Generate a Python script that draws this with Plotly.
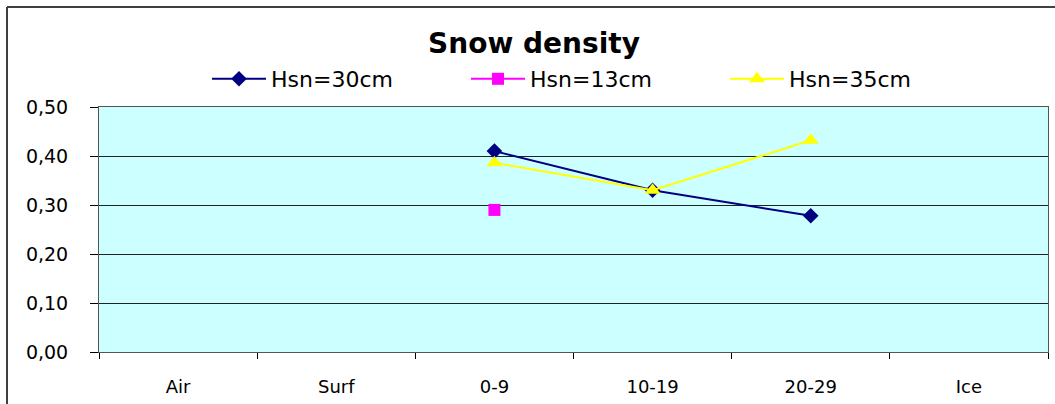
import plotly.graph_objects as go

categories = ["Air", "Surf", "0-9", "10-19", "20-29", "Ice"]
hsn30 = [None, None, 0.41, 0.33, 0.278, None]
hsn13 = [None, None, 0.29, None, None, None]
hsn35 = [None, None, 0.386, 0.33, 0.432, None]
y_ticks = [0.0, 0.1, 0.2, 0.3, 0.4, 0.5]

FONT = "DejaVu Sans"

fig = go.Figure()
fig.add_trace(go.Scatter(x=categories, y=hsn30, name="Hsn=30cm", mode="lines+markers",
                         line=dict(color="#000080", width=2),
                         marker=dict(symbol="diamond", size=12, color="#000080"),
                         connectgaps=False))
fig.add_trace(go.Scatter(x=categories, y=hsn13, name="Hsn=13cm", mode="lines+markers",
                         line=dict(color="#FF00FF", width=2),
                         marker=dict(symbol="square", size=12, color="#FF00FF")))
fig.add_trace(go.Scatter(x=categories, y=hsn35, name="Hsn=35cm", mode="lines+markers",
                         line=dict(color="#FFFF00", width=2),
                         marker=dict(symbol="triangle-up", size=14, color="#FFFF00")))

fig.update_layout(
    width=1055, height=404,
    margin=dict(l=99, r=7, t=107, b=52, autoexpand=False),
    paper_bgcolor="white",
    plot_bgcolor="#CCFFFF",
    separators=", ",
    font=dict(family=FONT, color="black", size=18),
    title=dict(text="<b>Snow density</b>", font=dict(family=FONT, size=28, color="black"),
               xref="container", x=534/1055, xanchor="center",
               yref="container", y=1-43/404, yanchor="middle"),
    showlegend=True,
    legend=dict(orientation="h", xref="paper", yref="paper",
                x=(207-99)/949, xanchor="left", y=(352-79)/245, yanchor="middle",
                font=dict(family=FONT, size=22, color="black"),
                entrywidth=190, entrywidthmode="pixels", itemwidth=54,
                bgcolor="rgba(0,0,0,0)", traceorder="normal"),
    xaxis=dict(type="category", categoryorder="array", categoryarray=categories,
               range=[-0.5, 5.5], tickson="boundaries", ticks="outside", ticklen=6,
               tickcolor="black", showgrid=False, showline=True, linecolor="#555555",
               linewidth=1, mirror=True, zeroline=False,
               tickfont=dict(family=FONT, size=18), ticklabelstandoff=18),
    yaxis=dict(range=[0, 0.5], tickvals=y_ticks, tickformat=".2f", ticks="outside",
               ticklen=8, tickcolor="black", showgrid=True, gridcolor="#222222",
               gridwidth=1, showline=True, linecolor="#555555", linewidth=1,
               mirror=True, zeroline=False,
               tickfont=dict(family=FONT, size=19), ticklabelstandoff=18),
    shapes=[
        dict(type="line", xref="paper", yref="paper",
             x0=(7-99)/949, x1=(1060-99)/949, y0=(352-7)/245, y1=(352-7)/245,
             line=dict(color="#404040", width=2)),
        dict(type="line", xref="paper", yref="paper",
             x0=(7-99)/949, x1=(7-99)/949, y0=(352-7)/245, y1=(352-410)/245,
             line=dict(color="#404040", width=2)),
    ],
)

fig.write_html("out.html")
